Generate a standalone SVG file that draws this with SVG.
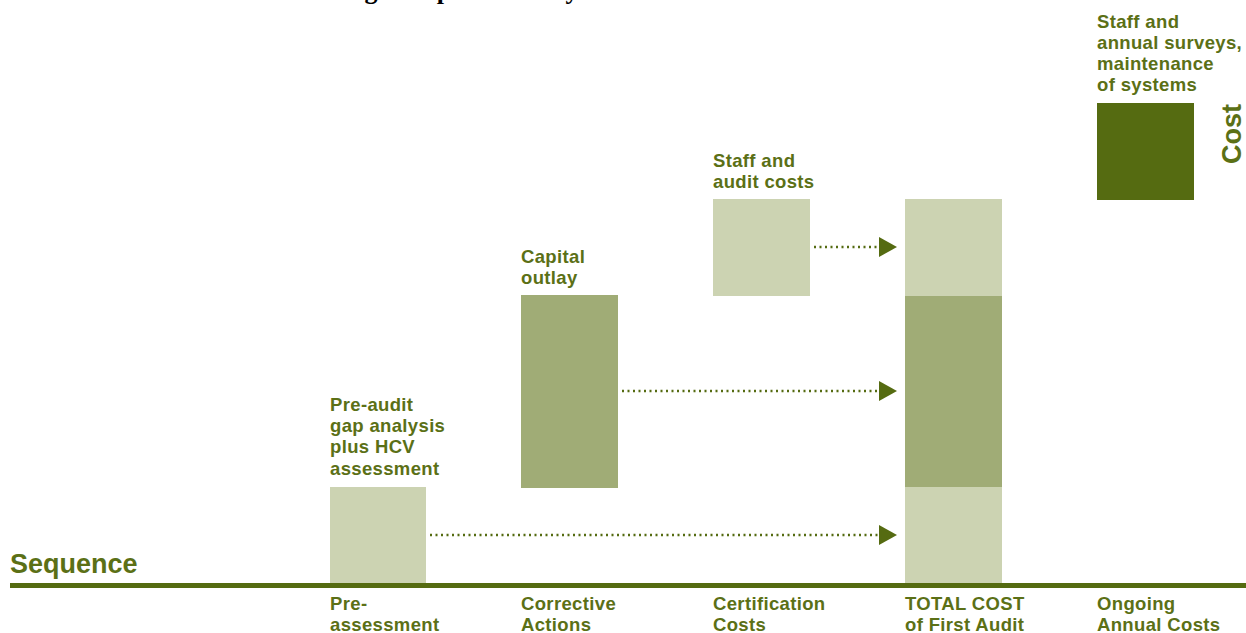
<svg xmlns="http://www.w3.org/2000/svg" width="1246" height="633" viewBox="0 0 1246 633">
<style>
.lbl{font-family:"Liberation Sans",Arial,sans-serif;font-weight:bold;font-size:18.5px;letter-spacing:0.35px;fill:#5B7016}
.big{font-family:"Liberation Sans",Arial,sans-serif;font-weight:bold;font-size:27px;fill:#5B7016}
.light{fill:#CCD3B2}
.mid{fill:#A0AC76}
.dark{fill:#556B11}
.dots{stroke:#556B11;stroke-width:2.5;stroke-dasharray:2 3.5;fill:none}
</style>
<defs>
<marker id="ah" markerUnits="userSpaceOnUse" markerWidth="18" markerHeight="20" refX="0" refY="10" orient="auto" viewBox="0 0 18 20">
<polygon points="0,0 18,10 0,20" fill="#556B11"/>
</marker>
</defs>
<rect width="1246" height="633" fill="#fff"/>
<text x="297" y="-1" font-family="Liberation Serif,serif" font-weight="bold" font-size="26" fill="#000">Timing of expenditure by</text>
<g id="axis">
<rect x="10" y="583" width="1236" height="5" class="dark"/>
<text class="big" x="10" y="573">Sequence</text>
<text class="big" transform="translate(1241,134) rotate(-90)" text-anchor="middle">Cost</text>
</g>
<g id="pre">
<rect x="330" y="487" width="96" height="96" class="light"/>
<text class="lbl" x="330" y="411">Pre-audit</text>
<text class="lbl" x="330" y="432">gap analysis</text>
<text class="lbl" x="330" y="453">plus HCV</text>
<text class="lbl" x="330" y="475">assessment</text>
<text class="lbl" x="330" y="610">Pre-</text>
<text class="lbl" x="330" y="631">assessment</text>
</g>
<g id="corrective">
<rect x="521" y="295" width="97" height="193" class="mid"/>
<text class="lbl" x="521" y="263">Capital</text>
<text class="lbl" x="521" y="284">outlay</text>
<text class="lbl" x="521" y="610">Corrective</text>
<text class="lbl" x="521" y="631">Actions</text>
</g>
<g id="certification">
<rect x="713" y="199" width="97" height="97" class="light"/>
<text class="lbl" x="713" y="167">Staff and</text>
<text class="lbl" x="713" y="188">audit costs</text>
<text class="lbl" x="713" y="610">Certification</text>
<text class="lbl" x="713" y="631">Costs</text>
</g>
<g id="total">
<rect x="905" y="199" width="97" height="97" class="light"/>
<rect x="905" y="296" width="97" height="191" class="mid"/>
<rect x="905" y="487" width="97" height="96" class="light"/>
<text class="lbl" x="905" y="610">TOTAL COST</text>
<text class="lbl" x="905" y="631">of First Audit</text>
</g>
<g id="ongoing">
<rect x="1097" y="103" width="97" height="97" class="dark"/>
<text class="lbl" x="1097" y="28">Staff and</text>
<text class="lbl" x="1097" y="49">annual surveys,</text>
<text class="lbl" x="1097" y="70">maintenance</text>
<text class="lbl" x="1097" y="91">of systems</text>
<text class="lbl" x="1097" y="610">Ongoing</text>
<text class="lbl" x="1097" y="631">Annual Costs</text>
</g>
<g id="connectors">
<line x1="430" y1="535" x2="879" y2="535" class="dots" marker-end="url(#ah)"/>
<line x1="622" y1="391" x2="879" y2="391" class="dots" marker-end="url(#ah)"/>
<line x1="814" y1="247" x2="879" y2="247" class="dots" marker-end="url(#ah)"/>
</g>
</svg>
